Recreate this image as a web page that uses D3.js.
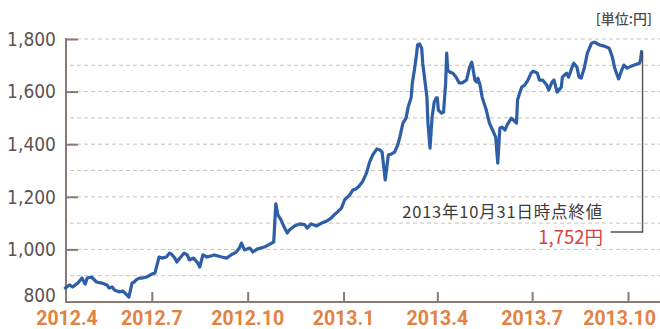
<!DOCTYPE html>
<html>
<head>
<meta charset="utf-8">
<script src="https://cdn.jsdelivr.net/npm/d3@7"></script>
<style>
  html, body { margin: 0; padding: 0; background: #ffffff; }
  svg { display: block; }
</style>
</head>
<body>
<svg id="chart" width="660" height="329"></svg>
<script>
// Share price, April 2012 – October 2013 (yen)
const dates = [
  "2012-04-09","2012-04-13","2012-04-16","2012-04-21","2012-04-25","2012-04-28","2012-04-30",
  "2012-05-04","2012-05-09","2012-05-14","2012-05-19","2012-05-21","2012-05-24","2012-05-26","2012-05-31",
  "2012-06-03","2012-06-07","2012-06-09","2012-06-12","2012-06-14","2012-06-16","2012-06-19","2012-06-22","2012-06-26",
  "2012-07-01","2012-07-04","2012-07-06","2012-07-08","2012-07-11","2012-07-15","2012-07-18","2012-07-20","2012-07-23","2012-07-25","2012-07-28",
  "2012-08-01","2012-08-04","2012-08-06","2012-08-10","2012-08-14","2012-08-16","2012-08-19","2012-08-23","2012-08-30",
  "2012-09-06","2012-09-11","2012-09-15","2012-09-20","2012-09-23","2012-09-25","2012-09-28",
  "2012-10-03","2012-10-06","2012-10-10","2012-10-17","2012-10-24","2012-10-26","2012-10-28","2012-10-30",
  "2012-11-02","2012-11-05","2012-11-08","2012-11-10","2012-11-15","2012-11-20","2012-11-25","2012-11-27",
  "2012-12-01","2012-12-06","2012-12-11","2012-12-16","2012-12-20","2012-12-23","2012-12-26","2012-12-30",
  "2013-01-02","2013-01-07","2013-01-10","2013-01-13","2013-01-16","2013-01-19","2013-01-23","2013-01-26","2013-01-29",
  "2013-02-02","2013-02-05","2013-02-07","2013-02-10","2013-02-13","2013-02-16","2013-02-19","2013-02-22","2013-02-24","2013-02-27",
  "2013-03-02","2013-03-04","2013-03-07","2013-03-08","2013-03-10","2013-03-12","2013-03-13","2013-03-15","2013-03-17","2013-03-18",
  "2013-03-20","2013-03-22","2013-03-23","2013-03-25","2013-03-27","2013-03-29","2013-03-31",
  "2013-04-01","2013-04-02","2013-04-05","2013-04-07","2013-04-09","2013-04-10","2013-04-11","2013-04-13","2013-04-16","2013-04-19",
  "2013-04-22","2013-04-25","2013-04-29",
  "2013-05-02","2013-05-04","2013-05-05","2013-05-07","2013-05-09","2013-05-10","2013-05-12","2013-05-14","2013-05-18","2013-05-21",
  "2013-05-24","2013-05-27","2013-05-29","2013-05-31",
  "2013-06-02","2013-06-05","2013-06-07","2013-06-11","2013-06-13","2013-06-16","2013-06-17","2013-06-19","2013-06-21","2013-06-24",
  "2013-06-27","2013-06-30",
  "2013-07-02","2013-07-06","2013-07-08","2013-07-11","2013-07-15","2013-07-17","2013-07-20","2013-07-22","2013-07-25","2013-07-29","2013-07-30",
  "2013-08-03","2013-08-05","2013-08-08","2013-08-10","2013-08-13","2013-08-15","2013-08-17","2013-08-20","2013-08-23","2013-08-27","2013-08-30",
  "2013-09-02","2013-09-04","2013-09-08","2013-09-13","2013-09-16","2013-09-18","2013-09-20","2013-09-22","2013-09-25","2013-09-27","2013-09-30",
  "2013-10-02","2013-10-07","2013-10-12","2013-10-13","2013-10-14"
];
const prices = [
  853,865,857,872,891,868,891,
  895,876,872,865,853,857,846,838,
  842,827,819,872,876,884,891,891,895,
  906,910,941,971,967,971,986,982,967,952,967,
  986,979,960,967,948,933,979,971,979,
  971,967,979,990,1005,1024,998,
  1005,990,1001,1009,1024,1028,1173,1131,
  1112,1085,1062,1074,1089,1097,1093,1081,
  1097,1089,1100,1108,1119,1131,1142,1157,
  1188,1207,1226,1230,1241,1256,1290,1332,1359,
  1382,1378,1370,1264,1359,1363,1370,1397,1427,1480,
  1499,1541,1579,1633,1682,1739,1777,1781,1765,1708,
  1644,1579,1480,1385,1503,1560,1576,
  1576,1530,1518,1522,1633,1746,1682,1674,1670,1655,
  1633,1633,1644,
  1693,1712,1693,1644,1636,1651,1625,1579,1530,1480,
  1454,1427,1328,1461,
  1465,1454,1473,1499,1492,1480,1568,1594,1617,1625,
  1644,1670,
  1678,1670,1644,1644,1625,1606,1636,1644,1598,1617,1655,
  1670,1655,1689,1708,1693,1655,1651,1689,1746,1784,1788,
  1781,1777,1773,1765,1731,1693,1670,1648,1682,1701,1689,
  1693,1701,1708,1720,1752
];

const yTickValues = [800, 1000, 1200, 1400, 1600, 1800];
const gridValues = [900, 1000, 1100, 1200, 1300, 1400, 1500, 1600, 1700, 1800];
const xTickDates = ["2012-04-01","2012-07-01","2012-10-01","2013-01-01","2013-04-01","2013-07-01","2013-10-01"];
const xTickLabels = ["2012.4","2012.7","2012.10","2013.1","2013.4","2013.7","2013.10"];
const unitLabel = "[単位:円]";
const noteLabel = "2013年10月31日時点終値";
const closeLabel = "1,752円";

const parse = d3.utcParse("%Y-%m-%d");
const series = dates.map((d, i) => ({ date: parse(d), value: prices[i] }));

const W = 660;
const svg = d3.select("#chart");
const axisColor = "#8a7a74";

const x = d3.scaleUtc()
  .domain([parse("2012-04-01"), parse("2013-10-01")])
  .range([57, 628]);
const y = d3.scaleLinear()
  .domain([800, 1800])
  .range([302, 39]);

const plotLeft = 66, plotRight = W;

// dashed horizontal gridlines
svg.append("g")
  .selectAll("line")
  .data(gridValues)
  .join("line")
  .attr("x1", plotLeft + 4)
  .attr("x2", plotRight)
  .attr("y1", d => y(d))
  .attr("y2", d => y(d))
  .attr("stroke", "#cbc1bb")
  .attr("stroke-width", 1)
  .attr("stroke-dasharray", "4,3");

// y axis: ticks point into the plot
const yAxis = d3.axisRight(y)
  .tickValues(yTickValues.filter(v => v > 800))
  .tickSize(12)
  .tickFormat("");
const gy = svg.append("g").attr("transform", `translate(${plotLeft},0)`).call(yAxis);
gy.select(".domain").remove();
gy.selectAll(".tick line").attr("stroke", axisColor).attr("stroke-width", 2);

// y tick labels (the lowest one sits a little higher, clear of the date labels)
svg.append("g")
  .selectAll("text")
  .data(yTickValues)
  .join("text")
  .attr("x", 56)
  .attr("y", d => y(d) - (d === 800 ? 7 : 0))
  .attr("dy", "0.36em")
  .attr("text-anchor", "end")
  .attr("fill", "#5e5350")
  .style("font-family", "'Liberation Sans Narrow', 'DejaVu Sans Condensed', sans-serif")
  .style("font-size", "19px")
  .text(d => d3.format(",")(d));

// x axis: ticks point up into the plot
const xAxis = d3.axisTop(x)
  .tickValues(xTickDates.slice(1).map(parse))
  .tickSize(10)
  .tickFormat("");
const gx = svg.append("g").attr("transform", `translate(0,${y(800)})`).call(xAxis);
gx.select(".domain").remove();
gx.selectAll(".tick line").attr("stroke", axisColor).attr("stroke-width", 2);

// axis lines
svg.append("line")
  .attr("x1", plotLeft).attr("x2", plotLeft)
  .attr("y1", y(1800) - 1).attr("y2", y(800) + 1)
  .attr("stroke", axisColor).attr("stroke-width", 2);
svg.append("line")
  .attr("x1", plotLeft).attr("x2", plotRight)
  .attr("y1", y(800)).attr("y2", y(800))
  .attr("stroke", axisColor).attr("stroke-width", 2);

// x tick labels, kept inside the drawing area
const xLabels = svg.append("g")
  .selectAll("text")
  .data(xTickDates)
  .join("text")
  .attr("x", (d, i) => x(parse(d)) + (i === 0 ? 10 : 0))
  .attr("y", 324.5)
  .attr("text-anchor", "middle")
  .attr("fill", "#e3823f")
  .style("font-family", "Roboto, sans-serif")
  .style("font-weight", "700")
  .style("font-size", "19.5px")
  .text((d, i) => xTickLabels[i]);
xLabels.each(function () {
  const b = this.getBBox();
  const over = b.x + b.width - (W - 4);
  if (over > 0) d3.select(this).attr("x", +d3.select(this).attr("x") - over);
});

// price line
const line = d3.line()
  .x(d => x(d.date))
  .y(d => y(d.value));
svg.append("path")
  .datum(series)
  .attr("d", line)
  .attr("fill", "none")
  .attr("stroke", "#2d5ea6")
  .attr("stroke-width", 3.2)
  .attr("stroke-linejoin", "round")
  .attr("stroke-linecap", "round");

// closing price callout
const last = series[series.length - 1];
const lx = x(last.date) + 1;
const calloutY = 232;
svg.append("path")
  .attr("d", `M${lx - 32},${calloutY}H${lx}V${y(last.value)}`)
  .attr("fill", "none")
  .attr("stroke", "#555050")
  .attr("stroke-width", 1.4);

svg.append("text")
  .attr("x", 603)
  .attr("y", 218)
  .attr("text-anchor", "end")
  .attr("fill", "#3f3a3a")
  .style("font-family", "'Noto Sans CJK JP', sans-serif")
  .style("font-size", "16.5px")
  .style("letter-spacing", "0.8px")
  .text(noteLabel);

svg.append("text")
  .attr("x", 603)
  .attr("y", 244)
  .attr("text-anchor", "end")
  .attr("fill", "#d8413b")
  .style("font-family", "'Noto Sans CJK JP', sans-serif")
  .style("font-size", "18.5px")
  .text(closeLabel);

// unit label
svg.append("text")
  .attr("x", 652)
  .attr("y", 24)
  .attr("text-anchor", "end")
  .attr("fill", "#4f4949")
  .style("font-family", "'Noto Sans CJK JP', sans-serif")
  .style("font-size", "14px")
  .style("font-weight", "500")
  .text(unitLabel);
</script>
</body>
</html>
